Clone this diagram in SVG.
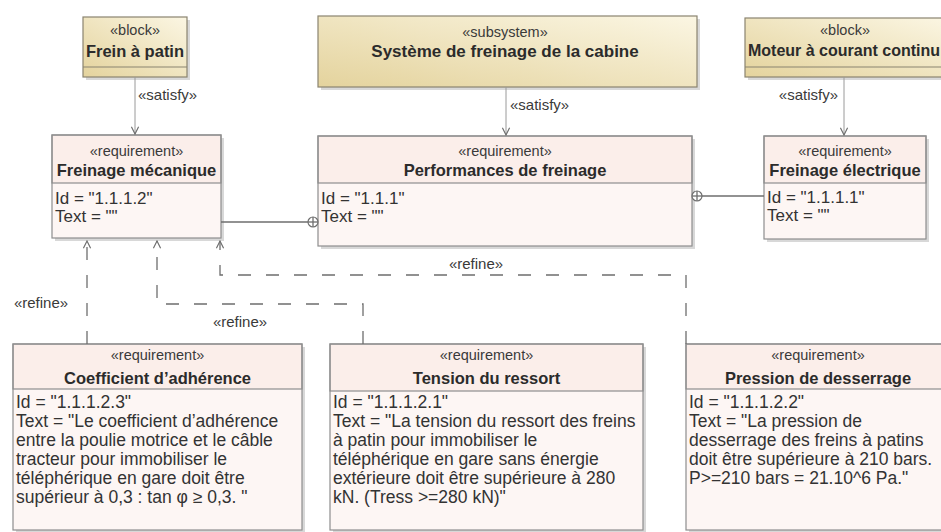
<svg xmlns="http://www.w3.org/2000/svg" width="941" height="532" viewBox="0 0 941 532">
<style>
  text { font-family: "Liberation Sans", Arial, sans-serif; fill: #2b2b2b; }
  .st { font-size: 14.5px; text-anchor: middle; fill: #3a3a3a; }
  .ti { font-size: 16.5px; font-weight: bold; text-anchor: middle; }
  .tiL { font-size: 17px; font-weight: bold; text-anchor: middle; }
  .bd { font-size: 17.5px; fill: #333; }
  .bdT { font-size: 17px; fill: #333; }
  .lbl { font-size: 15px; fill: #3a3a3a; }
  .blk { fill: url(#blkGrad); stroke: #8a8470; stroke-width: 1.2; }
  .shadow { fill: #b8b8b8; opacity: 0.55; }
  .reqH { fill: #fbeeea; stroke: #8e8e8e; stroke-width: 1.2; }
  .reqB { fill: #fdf6f4; stroke: none; }
  .frame { fill: none; stroke: #8e8e8e; stroke-width: 1.2; }
  .div { stroke: #8a8470; stroke-width: 1.1; }
  .sat { stroke: #9a9a9a; stroke-width: 1; fill: none; }
  .ref { stroke: #6e6e6e; stroke-width: 1.3; fill: none; stroke-dasharray: 13 15; }
  .cont { stroke: #6e6e6e; stroke-width: 1.3; fill: none; }
</style>
<defs>
  <linearGradient id="blkGrad" x1="0" y1="1" x2="1" y2="0">
    <stop offset="0" stop-color="#e4d39d"/>
    <stop offset="1" stop-color="#fbf6e3"/>
  </linearGradient>
  <marker id="openArrow" viewBox="0 0 10 10" refX="9" refY="5" markerWidth="9" markerHeight="9" markerUnits="userSpaceOnUse" orient="auto">
    <path d="M1,1 L9,5 L1,9" fill="none" stroke="#6e6e6e" stroke-width="1.3"/>
  </marker>
</defs>

<rect width="941" height="532" fill="#ffffff"/>

<!-- Blocks -->
<g id="frein-a-patin">
  <rect class="shadow" x="86" y="20" width="104" height="60"/>
  <rect class="blk" x="83" y="17" width="104" height="60"/>
  <line class="div" x1="83" y1="67" x2="187" y2="67"/>
  <text class="st" x="135" y="35">«block»</text>
  <text class="ti" x="135" y="57">Frein à patin</text>
</g>

<g id="systeme-freinage-cabine">
  <rect class="shadow" x="321" y="19" width="379" height="71"/>
  <rect class="blk" x="318" y="16" width="379" height="71"/>
  <text class="st" x="505" y="37">«subsystem»</text>
  <text class="tiL" x="505" y="57">Système de freinage de la cabine</text>
</g>

<g id="moteur-courant-continu">
  <rect class="shadow" x="748" y="21" width="204" height="59"/>
  <rect class="blk" x="745" y="18" width="204" height="59"/>
  <line class="div" x1="745" y1="67" x2="949" y2="67"/>
  <text class="st" x="845" y="35">«block»</text>
  <text class="ti" x="844" y="56" style="font-size:16px">Moteur à courant continu</text>
</g>

<!-- Top requirements -->
<g id="freinage-mecanique">
  <rect class="shadow" x="55" y="138" width="169" height="103"/>
  <rect class="reqB" x="52" y="135" width="169" height="103"/>
  <rect class="reqH" x="52" y="135" width="169" height="48"/>
  <rect class="frame" x="52" y="135" width="169" height="103"/>
  <text class="st" x="136.5" y="156">«requirement»</text>
  <text class="ti" x="136.5" y="176">Freinage mécanique</text>
  <text class="bdT" x="55" y="204">Id = "1.1.1.2"</text>
  <text class="bdT" x="55" y="222">Text = ""</text>
</g>

<g id="performances-freinage">
  <rect class="shadow" x="321" y="139" width="374" height="110"/>
  <rect class="reqB" x="318" y="136" width="374" height="110"/>
  <rect class="reqH" x="318" y="136" width="374" height="47"/>
  <rect class="frame" x="318" y="136" width="374" height="110"/>
  <text class="st" x="505" y="156">«requirement»</text>
  <text class="ti" x="505" y="176">Performances de freinage</text>
  <text class="bdT" x="321" y="204">Id = "1.1.1"</text>
  <text class="bdT" x="321" y="222">Text = ""</text>
</g>

<g id="freinage-electrique">
  <rect class="shadow" x="767" y="139" width="162" height="103"/>
  <rect class="reqB" x="764" y="136" width="162" height="103"/>
  <rect class="reqH" x="764" y="136" width="162" height="47"/>
  <rect class="frame" x="764" y="136" width="162" height="103"/>
  <text class="st" x="845" y="156">«requirement»</text>
  <text class="ti" x="845" y="176">Freinage électrique</text>
  <text class="bdT" x="767" y="203">Id = "1.1.1.1"</text>
  <text class="bdT" x="767" y="221">Text = ""</text>
</g>

<!-- Bottom requirements -->
<g id="coefficient-adherence">
  <rect class="shadow" x="16" y="347" width="289" height="186"/>
  <rect class="reqB" x="13" y="344" width="289" height="186"/>
  <rect class="reqH" x="13" y="344" width="289" height="45"/>
  <rect class="frame" x="13" y="344" width="289" height="186"/>
  <text class="st" x="157.5" y="360">«requirement»</text>
  <text class="ti" x="157.5" y="384">Coefficient d’adhérence</text>
  <text class="bd" x="16" y="408">Id = "1.1.1.2.3"</text>
  <text class="bd" x="16" y="427">Text = "Le coefficient d’adhérence</text>
  <text class="bd" x="16" y="446">entre la poulie motrice et le câble</text>
  <text class="bd" x="16" y="465">tracteur pour immobiliser le</text>
  <text class="bd" x="16" y="484">téléphérique en gare doit être</text>
  <text class="bd" x="16" y="503">supérieur à 0,3 : tan φ ≥ 0,3. "</text>
</g>

<g id="tension-ressort">
  <rect class="shadow" x="333" y="347" width="313" height="186"/>
  <rect class="reqB" x="330" y="344" width="313" height="186"/>
  <rect class="reqH" x="330" y="344" width="313" height="47"/>
  <rect class="frame" x="330" y="344" width="313" height="186"/>
  <text class="st" x="486.5" y="360">«requirement»</text>
  <text class="ti" x="486.5" y="384">Tension du ressort</text>
  <text class="bd" x="333" y="408">Id = "1.1.1.2.1"</text>
  <text class="bd" x="333" y="427">Text = "La tension du ressort des freins</text>
  <text class="bd" x="333" y="446">à patin pour immobiliser le</text>
  <text class="bd" x="333" y="465">téléphérique en gare sans énergie</text>
  <text class="bd" x="333" y="484">extérieure doit être supérieure à 280</text>
  <text class="bd" x="333" y="503">kN. (Tress &gt;=280 kN)"</text>
</g>

<g id="pression-desserrage">
  <rect class="shadow" x="689" y="347" width="264" height="186"/>
  <rect class="reqB" x="686" y="344" width="264" height="186"/>
  <rect class="reqH" x="686" y="344" width="264" height="45"/>
  <rect class="frame" x="686" y="344" width="264" height="186"/>
  <text class="st" x="818" y="360">«requirement»</text>
  <text class="ti" x="818" y="384">Pression de desserrage</text>
  <text class="bd" x="689" y="408">Id = "1.1.1.2.2"</text>
  <text class="bd" x="689" y="427">Text = "La pression de</text>
  <text class="bd" x="689" y="446">desserrage des freins à patins</text>
  <text class="bd" x="689" y="465">doit être supérieure à 210 bars.</text>
  <text class="bd" x="689" y="484">P&gt;=210 bars = 21.10^6 Pa."</text>
</g>

<!-- Connectors -->
<g id="connectors">
  <!-- satisfy -->
  <line class="sat" x1="135" y1="77" x2="135" y2="134" marker-end="url(#openArrow)"/>
  <text class="lbl" x="138" y="100">«satisfy»</text>
  <line class="sat" x1="506" y1="87" x2="506" y2="135" marker-end="url(#openArrow)"/>
  <text class="lbl" x="510" y="110">«satisfy»</text>
  <line class="sat" x1="844" y1="77" x2="844" y2="135" marker-end="url(#openArrow)"/>
  <text class="lbl" x="838" y="100" text-anchor="end">«satisfy»</text>

  <!-- containment -->
  <line class="cont" x1="221" y1="222" x2="308" y2="222"/>
  <circle cx="313" cy="222" r="5" fill="#ffffff" stroke="#6e6e6e" stroke-width="1.2"/>
  <line class="cont" x1="308" y1="222" x2="318" y2="222" stroke-width="1"/>
  <line class="cont" x1="313" y1="217" x2="313" y2="227" stroke-width="1"/>

  <line class="cont" x1="702" y1="196" x2="764" y2="196"/>
  <circle cx="697" cy="196" r="5" fill="#ffffff" stroke="#6e6e6e" stroke-width="1.2"/>
  <line class="cont" x1="692" y1="196" x2="702" y2="196" stroke-width="1"/>
  <line class="cont" x1="697" y1="191" x2="697" y2="201" stroke-width="1"/>

  <!-- refine -->
  <path class="ref" d="M87,344 L87,241" marker-end="url(#openArrow)"/>
  <text class="lbl" x="41" y="308" text-anchor="middle">«refine»</text>
  <path class="ref" d="M363,344 L363,304 L157,304 L157,241" marker-end="url(#openArrow)"/>
  <text class="lbl" x="240" y="327" text-anchor="middle">«refine»</text>
  <path class="ref" d="M686,344 L686,275 L220,275 L220,241" marker-end="url(#openArrow)"/>
  <text class="lbl" x="476" y="269" text-anchor="middle">«refine»</text>
</g>
</svg>
